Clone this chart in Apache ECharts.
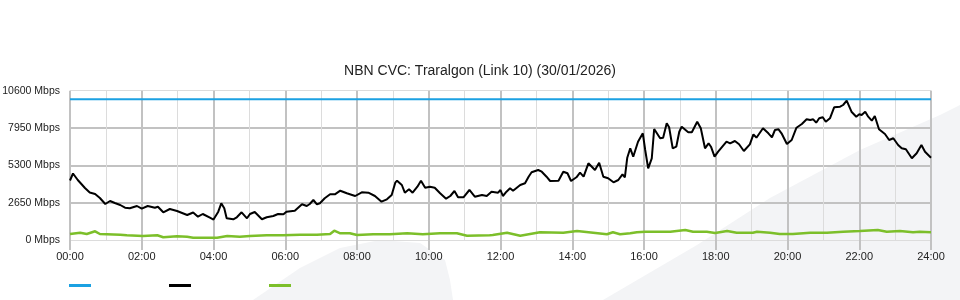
<!DOCTYPE html>
<html>
<head>
<meta charset="utf-8">
<script src="https://cdn.jsdelivr.net/npm/echarts@6/dist/echarts.min.js"></script>
<style>html,body{margin:0;padding:0;background:#fff;}#c{width:960px;height:300px;}</style>
</head>
<body>
<div id="c"></div>
<script>
// Minutes since 00:00 and values in Mbps
const titleText = 'NBN CVC: Traralgon (Link 10) (30/01/2026)';
const xTickLabels = ['00:00','02:00','04:00','06:00','08:00','10:00','12:00','14:00','16:00','18:00','20:00','22:00','24:00'];
const yTicks = [0, 2650, 5300, 7950, 10600];
const seriesNames = ['Capacity', 'Traffic', 'Other'];

const capacity = [[0, 10000], [1440, 10000]];

const traffic = [
[0,4225],[5,4722],[13,4260],[25,3692],[33,3373],[42,3266],[50,2982],[59,2556],[67,2769],[75,2627],
[84,2485],[92,2293],[100,2251],[112,2414],[120,2222],[130,2414],[142,2293],[147,2364],[156,1967],[167,2201],
[179,2059],[196,1775],[206,1953],[214,1654],[222,1846],[234,1583],[240,1450],[248,2009],[253,2606],[258,2251],
[262,1541],[273,1470],[279,1612],[287,1967],[296,1541],[301,1846],[309,1988],[321,1470],[329,1612],[340,1704],
[348,1846],[357,1825],[362,2009],[376,2080],[388,2535],[396,2414],[401,2556],[407,2840],[413,2535],[418,2606],
[426,2961],[435,3245],[443,3245],[446,3124],[452,3500],[463,3316],[477,3124],[488,3387],[499,3358],[510,3124],
[521,2719],[530,2890],[538,3195],[544,4068],[547,4210],[555,3905],[560,3358],[567,3600],[573,3358],[581,3784],
[587,4210],[594,3713],[602,3784],[610,3713],[619,3316],[629,2932],[636,3124],[643,3479],[649,3032],[658,3032],
[668,3550],[677,3074],[689,3195],[697,3124],[705,3429],[716,3358],[720,3550],[724,3124],[730,3429],[736,3671],
[741,3500],[753,3905],[761,4026],[767,4494],[772,4807],[783,4970],[789,4849],[797,4494],[803,4189],[817,4210],
[825,4849],[832,4736],[838,4189],[847,4452],[853,4778],[859,4494],[867,5446],[878,4970],[885,5488],[892,4494],
[900,4381],[909,4097],[917,4260],[924,4665],[928,4452],[932,5843],[937,6511],[942,5914],[950,6979],[958,7576],
[962,6390],[967,5091],[973,5801],[977,7881],[987,7221],[992,7263],[998,8286],[1002,8002],[1008,6511],[1014,6624],
[1019,7689],[1023,8044],[1034,7647],[1040,7647],[1049,8399],[1055,7931],[1062,6511],[1068,6866],[1072,6624],[1078,5914],
[1084,6269],[1098,6979],[1104,6866],[1112,7029],[1119,6795],[1127,6319],[1137,6795],[1143,7505],[1148,7263],[1159,7931],
[1161,7931],[1168,7576],[1174,7292],[1179,7810],[1185,7860],[1190,7576],[1199,6816],[1207,7100],[1215,7973],[1224,8236],
[1232,8570],[1238,8520],[1243,8570],[1248,8328],[1253,8641],[1259,8712],[1264,8399],[1271,8641],[1278,9422],[1288,9464],
[1293,9585],[1299,9890],[1307,9109],[1315,8754],[1320,8925],[1324,8875],[1330,9109],[1335,8754],[1341,8470],[1346,8804],
[1353,7860],[1363,7526],[1370,7100],[1377,7221],[1385,6745],[1391,6511],[1398,6440],[1408,5801],[1416,6156],[1424,6745],
[1430,6269],[1440,5843]
];

const other = [
[0,426],[17,518],[28,426],[42,618],[50,426],[84,376],[95,333],[122,284],[146,333],[156,192],
[179,263],[196,234],[206,163],[234,163],[246,163],[263,284],[284,234],[301,284],[329,333],[356,333],
[385,376],[413,376],[435,426],[442,660],[452,476],[468,476],[480,355],[507,405],[535,405],[564,476],
[590,405],[619,476],[647,476],[664,305],[702,333],[707,355],[731,518],[753,305],[786,547],[825,518],
[848,639],[875,518],[898,405],[908,547],[920,405],[937,476],[948,547],[962,589],[1004,589],[1029,710],
[1042,589],[1065,589],[1079,497],[1099,639],[1115,518],[1142,518],[1149,589],[1171,518],[1187,426],[1209,426],
[1238,518],[1266,518],[1293,589],[1321,639],[1351,710],[1366,589],[1388,639],[1410,547],[1421,589],[1440,547]
];

const chart = echarts.init(document.getElementById('c'), null, {renderer: 'canvas'});
const font = 'Liberation Sans, Arial, sans-serif';
const dark = '#c2c2c2', light = '#dcdcdc';

chart.setOption({
  animation: false,
  backgroundColor: '#fff',
  graphic: [
    {type: 'polygon', z: -10, silent: true,
     shape: {points: [[253,300],[300,268],[340,248],[380,240],[420,243],[445,260],[450,280],[453,300]]},
     style: {fill: '#f3f4f6'}},
    {type: 'polygon', z: -10, silent: true,
     shape: {points: [[603,300],[697,245],[770,198],[860,150],[940,115],[960,105],[960,300]]},
     style: {fill: '#f3f4f6'}}
  ],
  title: {
    text: titleText, left: 'center', top: 59,
    textStyle: {fontFamily: font, fontSize: 14, fontWeight: 'normal', color: '#222'}
  },
  legend: {
    left: 69, top: 284, padding: 0, icon: 'rect', itemWidth: 22, itemHeight: 3, itemGap: 78,
    formatter: () => '', data: seriesNames, selectedMode: false
  },
  grid: {left: 70, right: 29, top: 90.7, bottom: 60, outerBoundsMode: 'none', containLabel: false},
  xAxis: [
    {type: 'value', min: 0, max: 1440, interval: 60,
     axisLine: {show: false}, axisTick: {show: false}, axisLabel: {show: false},
     splitLine: {show: true, lineStyle: {color: light, width: 1}}},
    {type: 'value', min: 0, max: 1440, interval: 120, position: 'bottom',
     axisLine: {show: false},
     axisTick: {show: true, length: 10, lineStyle: {color: dark, width: 2}},
     axisLabel: {margin: 11, fontFamily: font, fontSize: 11, color: '#222',
       formatter: v => xTickLabels[v / 120]},
     splitLine: {show: true, lineStyle: {color: dark, width: 2}}}
  ],
  yAxis: [
    {type: 'value', min: 0, max: 10600, interval: 2650,
     axisLine: {show: false}, axisTick: {show: false},
     axisLabel: {margin: 10, fontFamily: font, fontSize: 10.5, color: '#222',
       formatter: v => v + ' Mbps'},
     splitLine: {show: true, lineStyle: {color: ['rgba(0,0,0,0)', dark, dark, dark, 'rgba(0,0,0,0)'], width: 2}}},
    {type: 'value', min: 0, max: 10600, interval: 10600,
     axisLine: {show: false}, axisTick: {show: false}, axisLabel: {show: false},
     splitLine: {show: true, lineStyle: {color: light, width: 1}}}
  ],
  series: [
    {name: seriesNames[0], type: 'line', data: capacity, showSymbol: false, symbol: 'none',
     lineStyle: {color: '#1ba1e2', width: 2}, itemStyle: {color: '#1ba1e2'}, z: 3},
    {name: seriesNames[1], type: 'line', data: traffic, showSymbol: false, symbol: 'none',
     lineStyle: {color: '#000', width: 2}, itemStyle: {color: '#000'}, z: 4},
    {name: seriesNames[2], type: 'line', data: other, showSymbol: false, symbol: 'none',
     lineStyle: {color: '#7cbf2a', width: 2.5}, itemStyle: {color: '#7cbf2a'}, z: 3}
  ]
});
</script>
</body>
</html>
